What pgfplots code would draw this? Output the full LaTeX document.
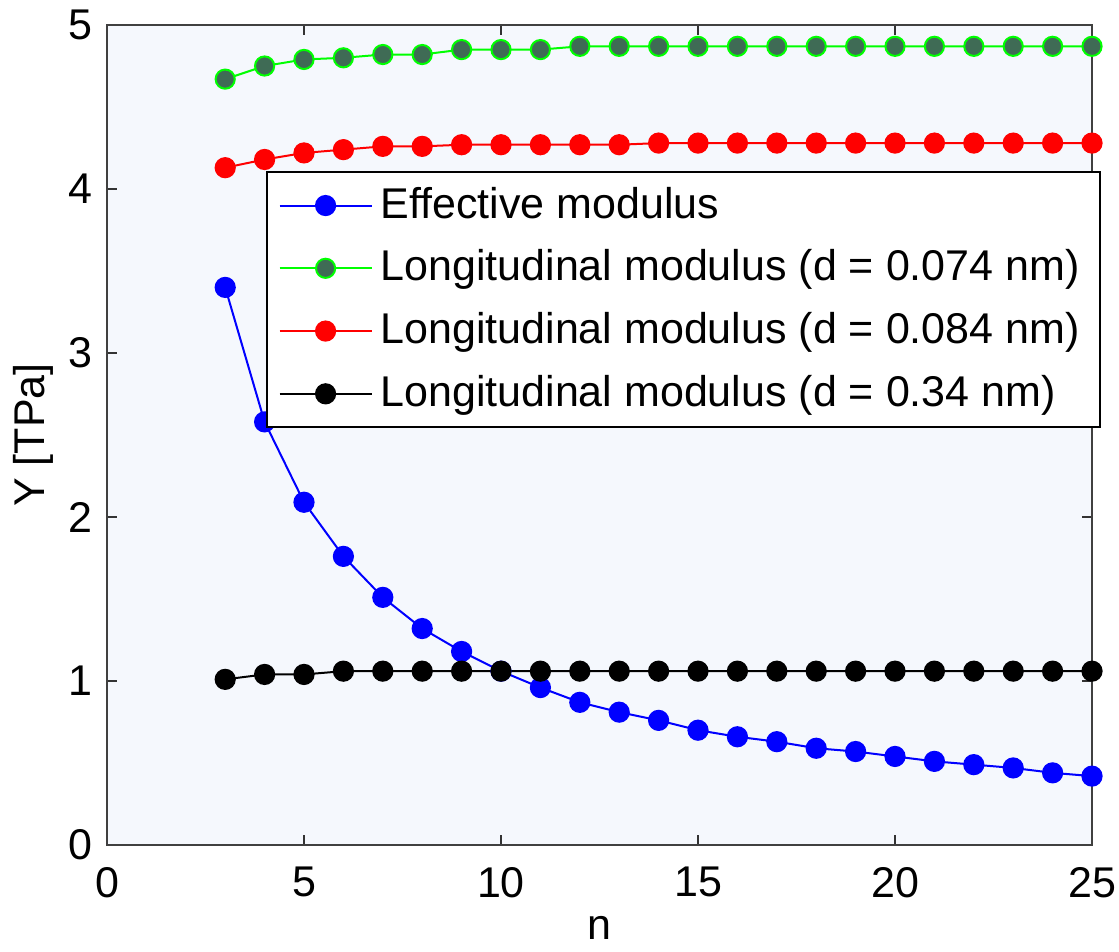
\documentclass[border=0pt]{standalone}
\usepackage{fontspec}
\setmainfont{Liberation Sans}
\usepackage{pgfplots}
\pgfplotsset{compat=1.18}
\definecolor{bgblue}{HTML}{F5F8FD}
\definecolor{mgreen}{HTML}{00FF00}
\definecolor{gfill}{HTML}{3F6B55}
\begin{document}
\begin{tikzpicture}
\begin{axis}[
    scale only axis,
    width=246.25pt, height=205pt,
    xmin=0, xmax=25, ymin=0, ymax=5,
    xtick={0,5,...,25}, ytick={0,1,...,5},
    tick align=inside, tick pos=both,
    major tick length=2.5pt,
    axis line style={line width=0.5pt, black!75},
    every tick/.style={black!80, line width=0.4pt},
    axis background/.style={fill=bgblue},
    font=\fontsize{10.75}{12.5}\selectfont,
    /pgf/number format/assume math mode=true,
    xticklabel style={yshift=-2pt},
    xlabel={n}, ylabel={Y [TPa]},
    xlabel style={at={(axis description cs:0.5,0)}, anchor=base, yshift=-23.5pt},
    ylabel style={at={([xshift=-18.5pt]axis description cs:0,0.5)}, anchor=center},
    legend style={at={(0.161,0.822)}, anchor=north west, draw=black, fill=white,
        line width=0.5pt, font=\fontsize{10.75}{12.5}\selectfont, inner xsep=3pt, inner ysep=1.75pt,
        row sep=2.4pt},
    legend cell align=left,
    legend image code/.code={\draw[mark repeat=2,mark phase=2,#1] plot coordinates {(0pt,0pt)(11.5pt,0pt)(23pt,0pt)};},
    every axis plot/.append style={line width=0.5pt, mark=*, mark size=2.4pt},
]
\addplot[blue, mark options={fill=blue, draw=blue}] coordinates {
 (3,3.40) (4,2.58) (5,2.09) (6,1.76) (7,1.51) (8,1.32) (9,1.18) (10,1.06)
 (11,0.96) (12,0.87) (13,0.81) (14,0.76) (15,0.70) (16,0.66) (17,0.63)
 (18,0.59) (19,0.57) (20,0.54) (21,0.51) (22,0.49) (23,0.47) (24,0.44) (25,0.42)};
\addplot[mgreen, mark options={fill=gfill, draw=mgreen}] coordinates {
 (3,4.67) (4,4.75) (5,4.79) (6,4.80) (7,4.82) (8,4.82) (9,4.85) (10,4.85)
 (11,4.85) (12,4.87) (13,4.87) (14,4.87) (15,4.87) (16,4.87) (17,4.87)
 (18,4.87) (19,4.87) (20,4.87) (21,4.87) (22,4.87) (23,4.87) (24,4.87) (25,4.87)};
\addplot[red, mark options={fill=red, draw=red}] coordinates {
 (3,4.13) (4,4.18) (5,4.22) (6,4.24) (7,4.26) (8,4.26) (9,4.27) (10,4.27)
 (11,4.27) (12,4.27) (13,4.27) (14,4.28) (15,4.28) (16,4.28) (17,4.28)
 (18,4.28) (19,4.28) (20,4.28) (21,4.28) (22,4.28) (23,4.28) (24,4.28) (25,4.28)};
\addplot[black, mark options={fill=black, draw=black}] coordinates {
 (3,1.01) (4,1.04) (5,1.04) (6,1.06) (7,1.06) (8,1.06) (9,1.06) (10,1.06)
 (11,1.06) (12,1.06) (13,1.06) (14,1.06) (15,1.06) (16,1.06) (17,1.06)
 (18,1.06) (19,1.06) (20,1.06) (21,1.06) (22,1.06) (23,1.06) (24,1.06) (25,1.06)};
\legend{Effective modulus, Longitudinal modulus (d = 0.074 nm),
  Longitudinal modulus (d = 0.084 nm), Longitudinal modulus (d = 0.34 nm)}
\end{axis}
\pgfresetboundingbox
\path ([shift={(-26.75pt,-26.5pt)}]current axis.south west) rectangle ([shift={(6.75pt,6.25pt)}]current axis.north east);
\end{tikzpicture}
\end{document}
